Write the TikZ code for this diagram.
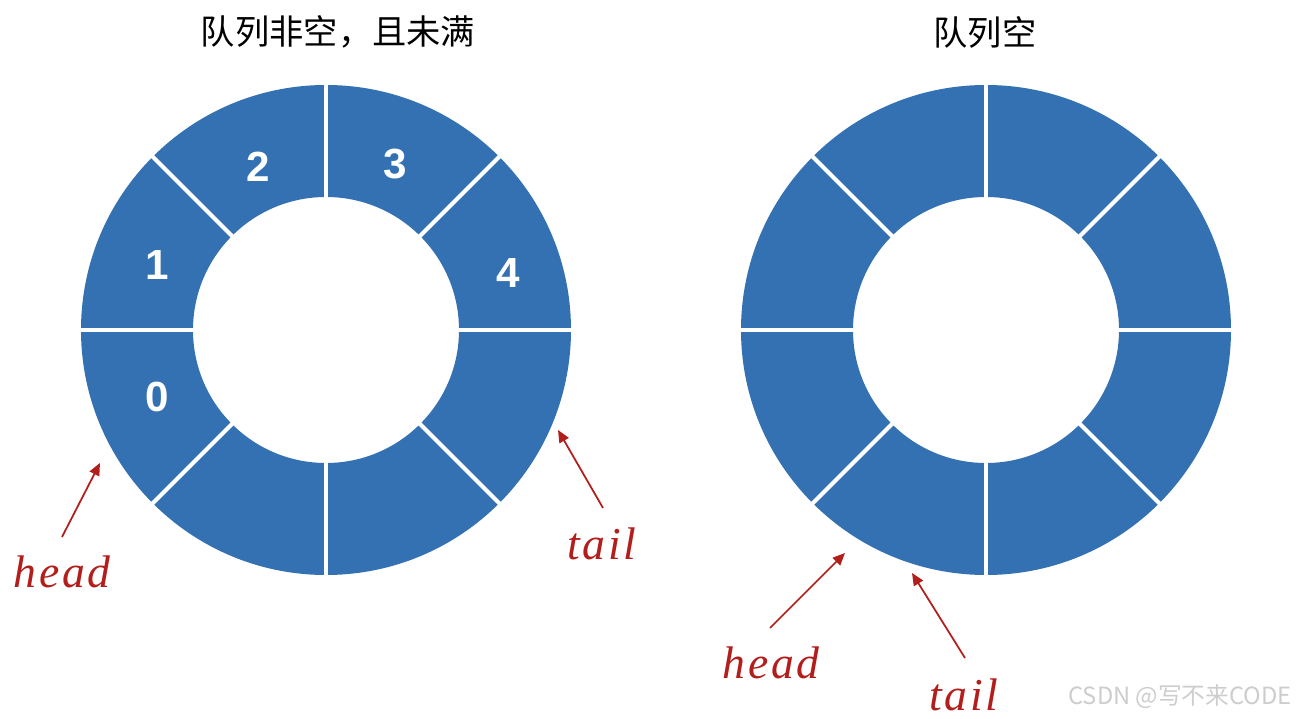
\documentclass[tikz,border=0pt]{standalone}
\usepackage{fontspec}
\usepackage{tikz}
\usetikzlibrary{arrows.meta, calc}
\setmainfont{Liberation Serif}
\newfontfamily\cjk{Noto Sans CJK SC}
\newfontfamily\numfont{Liberation Sans}
\definecolor{qblue}{RGB}{52,113,179}
\definecolor{qred}{RGB}{178,30,28}
\definecolor{qmark}{RGB}{205,205,205}
\tikzset{
    ring/.style={fill=qblue, even odd rule},
    gap/.style={draw=white, line width=2.3pt},
    idx/.style={text=white, font=\numfont\bfseries\fontsize{24}{24}\selectfont},
    title/.style={font=\cjk\fontsize{19.5}{19.5}\selectfont},
    ptr/.style={-{Triangle[length=7pt, width=6pt]}, qred, line width=1pt},
    ptrlbl/.style={text=qred, font=\addfontfeatures{LetterSpace=6}\itshape\fontsize{26}{26}\selectfont},
}

\begin{document}
\begin{tikzpicture}[x=0.02cm, y=-0.02cm]
    \useasboundingbox (0,0) rectangle (1296,719);
    % left queue: not empty, not full
    \coordinate (lc) at (326,330);
    \fill[ring] (lc) circle (245) (lc) circle (133);
    \foreach \a in {0,45,...,315}
        \draw[gap] ($(lc)+(\a:131)$) -- ($(lc)+(\a:247)$);
    \node[title] (ltitle) at (338,32) {队列非空，且未满};
    \node[idx] (c0) at (157,397) {0};
    \node[idx] (c1) at (157,265) {1};
    \node[idx] (c2) at (258,167) {2};
    \node[idx] (c3) at (395,164) {3};
    \node[idx] (c4) at (508,273) {4};
    \node[ptrlbl] (lhead) at (62,572) {head};
    \node[ptrlbl] (ltail) at (602,544) {tail};
    \coordinate (lh0) at (62,537);
    \coordinate (lh1) at (100,463);
    \coordinate (lt0) at (603,508);
    \coordinate (lt1) at (558,430);
    \draw[ptr] (lh0) -- (lh1);
    \draw[ptr] (lt0) -- (lt1);
    % right queue: empty
    \coordinate (rc) at (986,330);
    \fill[ring] (rc) circle (245) (rc) circle (133);
    \foreach \a in {0,45,...,315}
        \draw[gap] ($(rc)+(\a:131)$) -- ($(rc)+(\a:247)$);
    \node[title] (rtitle) at (985,32) {队列空};
    \node[ptrlbl] (rhead) at (771,663) {head};
    \node[ptrlbl] (rtail) at (964,695) {tail};
    \coordinate (rh0) at (770,628);
    \coordinate (rh1) at (845,553);
    \coordinate (rt0) at (965,658);
    \coordinate (rt1) at (912,573);
    \draw[ptr] (rh0) -- (rh1);
    \draw[ptr] (rt0) -- (rt1);
    \node[text=qmark, font=\cjk\fontsize{13.5}{13.5}\selectfont] (mark) at (1180,697) {CSDN @写不来CODE};
\end{tikzpicture}
\end{document}
